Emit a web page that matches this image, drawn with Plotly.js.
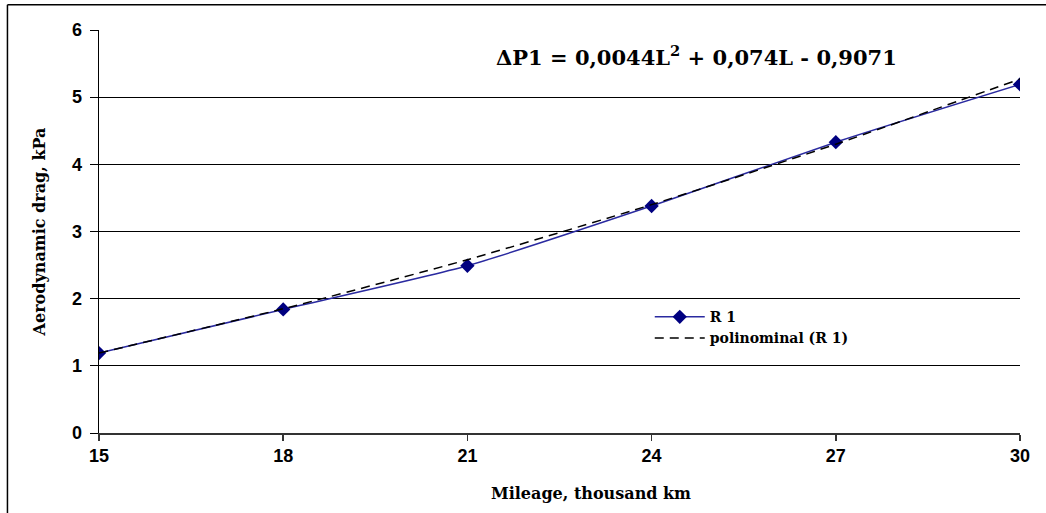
<!DOCTYPE html>
<html>
<head>
<meta charset="utf-8">
<script src="https://cdn.plot.ly/plotly-3.0.1.min.js"></script>
<style>html,body{margin:0;padding:0;background:#fff;}#chart{width:1046px;height:513px;}</style>
</head>
<body>
<div id="chart"></div>
<script>
const mileage = [15, 18, 21, 24, 27, 30];
const dragR1 = [1.19, 1.84, 2.49, 3.38, 4.33, 5.19];
const trendX = [15, 18, 21, 24, 27, 30];
const trendY = [1.19, 1.85, 2.58, 3.40, 4.30, 5.27];
const xTicks = [15, 18, 21, 24, 27, 30];
const yTicks = [0, 1, 2, 3, 4, 5, 6];

const serif = 'DejaVu Serif, Liberation Serif, serif';
const sans = 'Liberation Sans, Arial, sans-serif';

const traces = [
  {
    x: mileage, y: dragR1, name: 'R 1', type: 'scatter', mode: 'lines+markers',
    line: {color: '#2a2aa0', width: 1.5, shape: 'spline', smoothing: 0.6},
    marker: {symbol: 'diamond', size: 11, color: '#000080'}
  },
  {
    x: trendX, y: trendY, name: 'polinominal (R 1)', type: 'scatter', mode: 'lines',
    line: {color: '#000000', width: 1.5, dash: '9px,6px', shape: 'spline', smoothing: 0.6}
  }
];

const layout = {
  width: 1046, height: 513,
  margin: {l: 99, r: 26, t: 30, b: 80},
  paper_bgcolor: '#ffffff', plot_bgcolor: '#ffffff',
  showlegend: true,
  legend: {
    x: 0.598, y: 0.327, xanchor: 'left', yanchor: 'top',
    bgcolor: 'rgba(0,0,0,0)', tracegroupgap: 0, itemwidth: 50,
    font: {family: serif, size: 14, color: '#000', weight: 'bold'}
  },
  xaxis: {
    range: [15, 30], tickvals: xTicks, ticktext: xTicks.map(String),
    showgrid: false, zeroline: false,
    showline: true, linecolor: '#333', linewidth: 1.5,
    ticks: 'outside', ticklen: 6, tickcolor: '#333', tickwidth: 1.5,
    tickfont: {family: sans, size: 18, color: '#000', weight: 'bold'}
  },
  yaxis: {
    range: [0, 6], tickvals: yTicks, ticktext: yTicks.map(String),
    showgrid: true, gridcolor: '#000', gridwidth: 1, zeroline: false,
    showline: true, linecolor: '#000', linewidth: 1.5,
    ticks: 'outside', ticklen: 8, tickcolor: '#000', tickwidth: 1,
    ticklabelstandoff: 4,
    tickfont: {family: sans, size: 18, color: '#000', weight: 'bold'},
    title: {text: 'Aerodynamic drag, kPa', font: {family: serif, size: 16, color: '#000', weight: 'bold'}, standoff: 22}
  },
  annotations: [
    {
      xref: 'paper', yref: 'paper', x: 0.649, y: 0.935, xanchor: 'center', yanchor: 'middle',
      text: 'ΔP1 = 0,0044L<sup>2</sup> + 0,074L - 0,9071', showarrow: false,
      font: {family: serif, size: 21, color: '#000', weight: 'bold'}
    },
    {
      xref: 'paper', yref: 'paper', x: 0.534, y: -0.149, xanchor: 'center', yanchor: 'middle',
      text: 'Mileage, thousand km', showarrow: false,
      font: {family: serif, size: 16, color: '#000', weight: 'bold'}
    }
  ],
  shapes: [
    {type: 'line', xref: 'paper', yref: 'paper', x0: -0.0994, x1: 1.03, y0: 1.0625, y1: 1.0625, line: {color: '#000', width: 1.5}},
    {type: 'line', xref: 'paper', yref: 'paper', x0: -0.0994, x1: -0.0994, y0: -0.2, y1: 1.0625, line: {color: '#000', width: 1.5}}
  ]
};

Plotly.newPlot('chart', traces, layout, {displayModeBar: false, staticPlot: true});
</script>
</body>
</html>
